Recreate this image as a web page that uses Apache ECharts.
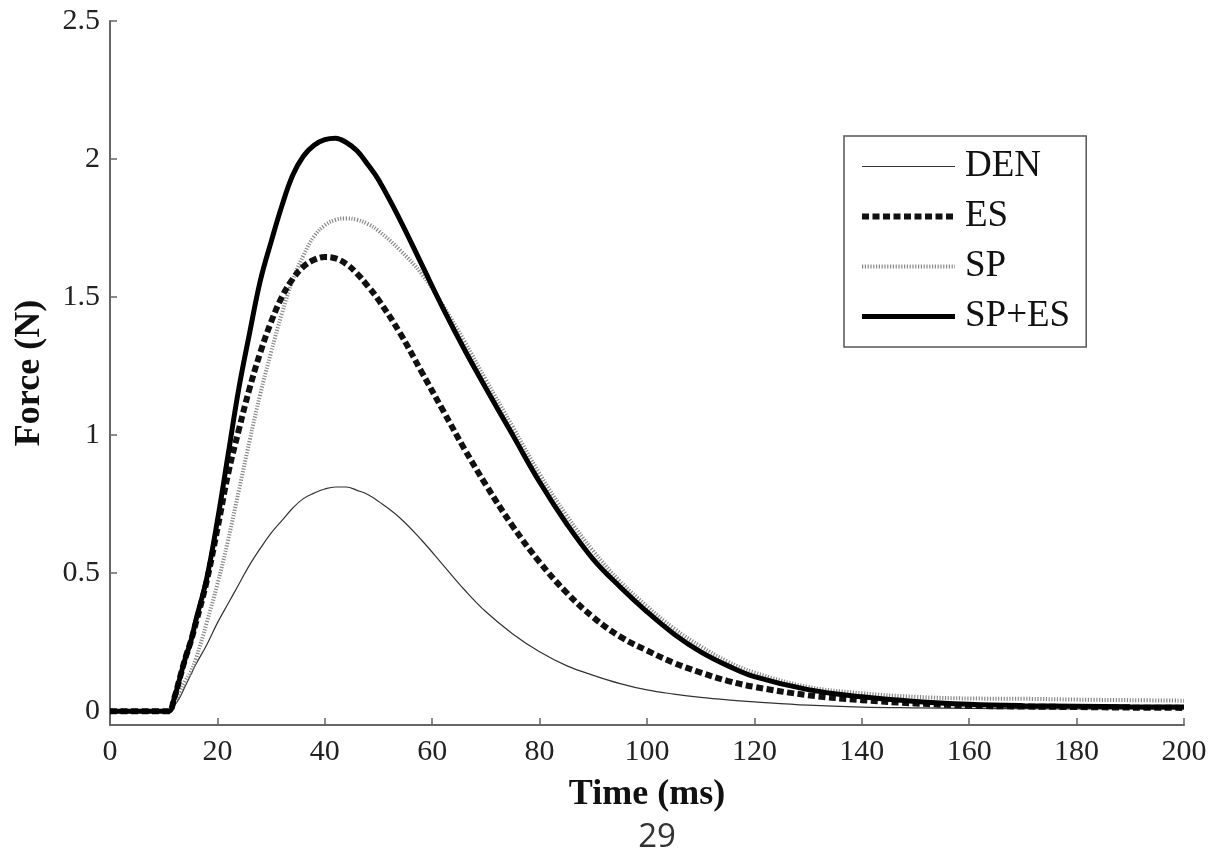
<!DOCTYPE html>
<html>
<head>
<meta charset="utf-8">
<script src="https://cdn.jsdelivr.net/npm/echarts@6/dist/echarts.min.js"></script>
<style>html,body{margin:0;padding:0;background:#fff;}#c{width:1211px;height:856px;}</style>
</head>
<body>
<div id="c"></div>
<script>
const time = [0,5,10,11,12,13,14,15,16,18,20,22,24,26,28,30,32,34,36,38,40,42,44,46,48,50,54,58,62,66,70,75,80,85,90,95,100,105,110,115,120,130,140,150,160,170,180,190,200];
const den  = [0,0,0,0,0.02,0.05,0.09,0.13,0.17,0.24,0.32,0.39,0.46,0.53,0.59,0.645,0.69,0.735,0.77,0.79,0.805,0.812,0.812,0.80,0.785,0.76,0.70,0.62,0.53,0.44,0.36,0.28,0.215,0.165,0.13,0.10,0.077,0.062,0.05,0.041,0.034,0.022,0.015,0.012,0.01,0.009,0.008,0.008,0.008];
const es   = [0,0,0,0,0.05,0.12,0.19,0.25,0.32,0.47,0.66,0.86,1.02,1.17,1.30,1.41,1.50,1.565,1.61,1.635,1.645,1.64,1.62,1.585,1.54,1.49,1.37,1.23,1.09,0.95,0.82,0.67,0.54,0.43,0.34,0.27,0.22,0.175,0.14,0.11,0.088,0.058,0.04,0.028,0.02,0.017,0.015,0.013,0.012];
const sp   = [0,0,0,0,0.03,0.07,0.11,0.14,0.19,0.32,0.46,0.62,0.80,0.98,1.15,1.30,1.44,1.56,1.65,1.72,1.76,1.78,1.785,1.78,1.765,1.74,1.67,1.585,1.47,1.34,1.20,1.03,0.86,0.71,0.58,0.47,0.38,0.30,0.235,0.18,0.14,0.088,0.065,0.052,0.046,0.045,0.042,0.04,0.038];
const spes = [0,0,0,0,0.05,0.12,0.19,0.25,0.33,0.48,0.69,0.93,1.17,1.37,1.56,1.70,1.83,1.94,2.01,2.05,2.07,2.075,2.06,2.03,1.98,1.925,1.78,1.62,1.46,1.31,1.17,1.00,0.83,0.68,0.55,0.45,0.36,0.28,0.215,0.165,0.125,0.078,0.052,0.035,0.025,0.02,0.018,0.016,0.015];
const yTicks = [0,0.5,1,1.5,2,2.5];
const names = ['DEN','ES','SP','SP+ES'];

const pair = arr => time.map((t,i)=>[t,arr[i]]);
const serif = '"Liberation Serif","DejaVu Serif",serif';
const styles = {
  'DEN':   {color:'#333', width:1.2, type:'solid'},
  'SP':    {color:'#888', width:4,   type:[1.2,1.6]},
  'ES':    {color:'#111', width:6,   type:[7,3.5]},
  'SP+ES': {color:'#000', width:5,   type:'solid'}
};
const chart = echarts.init(document.getElementById('c'));
chart.setOption({
  animation:false,
  backgroundColor:'#fff',
  grid:{left:110,right:27,top:21,bottom:131},
  legend:{
    orient:'vertical', left:844, top:136,
    padding:[12,16,12,15], itemGap:13, itemWidth:93, itemHeight:30,
    borderColor:'#555', borderWidth:1.5,
    itemStyle:{opacity:0},
    textStyle:{fontFamily:serif,fontSize:37,color:'#111',padding:[0,0,0,5]},
    data:names.map(n=>({name:n, lineStyle:{color:styles[n].color,width:styles[n].width,type:styles[n].type}}))
  },
  xAxis:{
    type:'value', min:0, max:200, interval:20,
    name:'Time (ms)', nameLocation:'middle', nameGap:52,
    nameTextStyle:{fontFamily:serif,fontSize:36,fontWeight:'bold',color:'#111'},
    axisLine:{onZero:false,lineStyle:{color:'#666',width:2}},
    axisTick:{inside:true,length:7,lineStyle:{color:'#666',width:1.5}},
    axisLabel:{fontFamily:serif,fontSize:30,color:'#222',margin:12},
    splitLine:{show:false}
  },
  yAxis:{
    type:'value', min:-0.05, max:2.5,
    name:'Force (N)', nameLocation:'middle', nameGap:62, nameRotate:90,
    nameTextStyle:{fontFamily:serif,fontSize:36,fontWeight:'bold',color:'#111'},
    axisLine:{onZero:false,lineStyle:{color:'#666',width:2}},
    axisTick:{inside:true,length:7,customValues:yTicks,lineStyle:{color:'#666',width:1.5}},
    axisLabel:{fontFamily:serif,fontSize:30,color:'#222',margin:10,customValues:yTicks},
    splitLine:{show:false}
  },
  series:[
    {name:'DEN',type:'line',data:pair(den),showSymbol:false,symbol:'none',smooth:0.4,
      lineStyle:styles['DEN'], itemStyle:{color:'#333'}},
    {name:'SP',type:'line',data:pair(sp),showSymbol:false,symbol:'none',smooth:0.4,
      lineStyle:styles['SP'], itemStyle:{color:'#888'}},
    {name:'ES',type:'line',data:pair(es),showSymbol:false,symbol:'none',smooth:0.4,
      lineStyle:styles['ES'], itemStyle:{color:'#111'}},
    {name:'SP+ES',type:'line',data:pair(spes),showSymbol:false,symbol:'none',smooth:0.4,
      lineStyle:styles['SP+ES'], itemStyle:{color:'#000'}}
  ],
  graphic:[{type:'text',x:657,y:838,style:{text:'29',font:'33px "Open Sans","DejaVu Sans",sans-serif',fill:'#333',textAlign:'center',textVerticalAlign:'middle'}}]
});
</script>
</body>
</html>
